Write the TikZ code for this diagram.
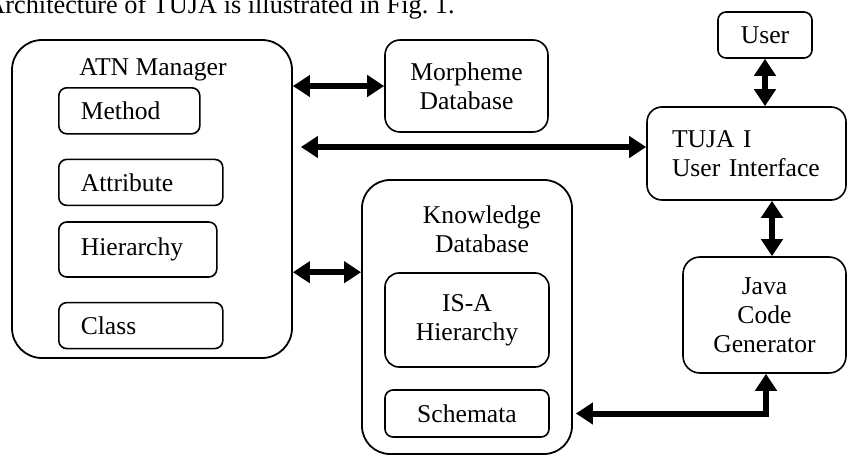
\documentclass[tikz,border=0pt]{standalone}
\usepackage{fontspec}
\setmainfont{Liberation Serif}
\usetikzlibrary{arrows.meta, positioning}

\begin{document}
\begin{tikzpicture}[x=0.5pt, y=-0.5pt, font=\fontsize{12.8pt}{14.5pt}\selectfont]
\tikzset{
  >={Triangle[length=8.5pt, width=10.5pt]},
  bigbox/.style={draw, line width=0.9pt, rounded corners=15pt},
  block/.style={draw, line width=0.8pt, rounded corners=7.5pt, align=center},
  item/.style={
    draw, line width=0.8pt,
    rounded corners=4pt,
    text width=#1,
    align=left,
    inner xsep=11pt,
    minimum height=23pt},
  link/.style={<->, line width=3pt},
}
\useasboundingbox (0,0) rectangle (847,455);
\clip (0,0) rectangle (847,455);

% caption line cut by the page edge
\node[anchor=base west, inner sep=0, font=\fontsize{13.15pt}{15pt}\selectfont] (intro) at (-14,13) {Architecture of TUJA is illustrated in Fig.~1.};

% ATN manager with its parts
\node[bigbox, minimum width=140pt, minimum height=159pt] (atn) at (152,199) {};
\node (atnlbl) at (153,70) {ATN Manager};
\node[item=48.5pt, anchor=north west] (method) at (58,87) {Method};
\node[item=60pt, below=12pt of method.south west, anchor=north west] (attr) {Attribute};
\node[item=57pt, minimum height=27.5pt, below=7.5pt of attr.south west, anchor=north west] (hier) {Hierarchy};
\node[item=60pt, below=12pt of hier.south west, anchor=north west] (class) {Class};

\node[block, minimum width=81.5pt, minimum height=46pt] (morph) at (466.5,86) {Morpheme\\Database};

% knowledge database
\node[bigbox, rounded corners=14pt, minimum width=105pt, minimum height=137pt] (know) at (467,317) {};
\node[align=center] (knowlbl) at (482,229) {Knowledge\\Database};
\node[block, rounded corners=7pt, minimum width=82pt, minimum height=47pt] (isa) at (467,320) {IS-A\\Hierarchy};
\node[block, rounded corners=4pt, minimum width=82pt, minimum height=23.5pt] (schem) at (467,413.5) {Schemata};

% right column
\node[block, rounded corners=4pt, minimum width=47pt, minimum height=23pt] (user) at (765,35) {User};
\node[block, text width=74.5pt, align=left, inner xsep=12.5pt, minimum height=46.5pt] (tuja) at (746.5,153.5) {TUJA I\\User Interface};
\node[block, rounded corners=8.5pt, minimum width=81.5pt, minimum height=58pt] (java) at (764.5,315) {Java\\Code\\Generator};

\coordinate (tujain) at ([yshift=3.25pt]tuja.west);
\coordinate (javain) at ([xshift=3.75pt]java.north);

\draw[link] (atn.east |- morph.west) -- (morph.west);
\draw[link] ([xshift=4pt]atn.east |- tujain) -- (tujain);
\draw[link] (atn.east |- isa.north) -- (know.west |- isa.north);
\draw[link] (user.south) -- (user.south |- tuja.north);
\draw[link] (tuja.south -| javain) -- (javain);
\draw[link] ([xshift=1.5pt]know.east |- schem.east) -| ([xshift=0.75pt]java.south);

\end{tikzpicture}
\end{document}
